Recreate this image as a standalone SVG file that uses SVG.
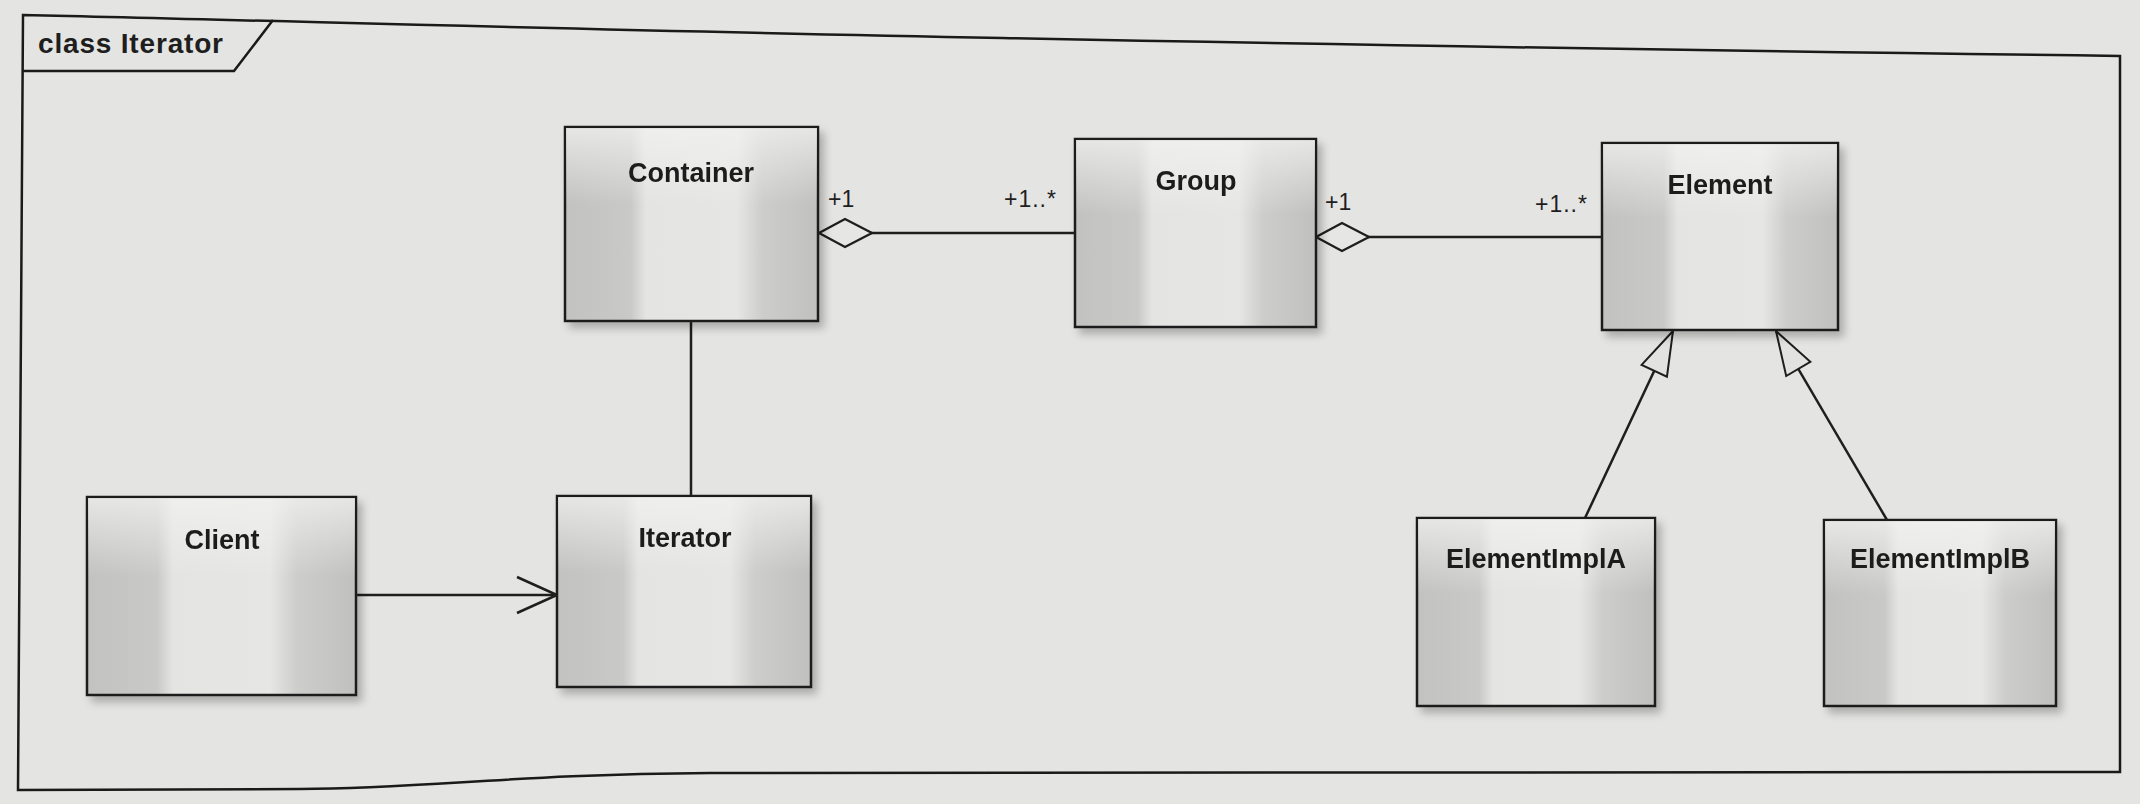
<svg xmlns="http://www.w3.org/2000/svg" width="2140" height="804" viewBox="0 0 2140 804">
<defs>
<linearGradient id="boxg" x1="0" y1="0" x2="1" y2="0">
<stop offset="0" stop-color="#c2c2c1"/>
<stop offset="0.26" stop-color="#c9c9c8"/>
<stop offset="0.32" stop-color="#e4e4e3"/>
<stop offset="0.68" stop-color="#e6e6e5"/>
<stop offset="0.78" stop-color="#cdcdcc"/>
<stop offset="1" stop-color="#c0c0bf"/>
</linearGradient>
<linearGradient id="topg" x1="0" y1="0" x2="0" y2="1">
<stop offset="0" stop-color="#f2f2f1" stop-opacity="0.75"/>
<stop offset="0.4" stop-color="#f2f2f1" stop-opacity="0"/>
</linearGradient>
<filter id="sh" x="-10%" y="-10%" width="130%" height="130%">
<feGaussianBlur in="SourceAlpha" stdDeviation="4"/>
<feOffset dx="5" dy="6" result="b"/>
<feComponentTransfer><feFuncA type="linear" slope="0.25"/></feComponentTransfer>
<feMerge><feMergeNode/><feMergeNode in="SourceGraphic"/></feMerge>
</filter>
<marker id="open" viewBox="0 0 44 40" refX="42" refY="20" markerWidth="44" markerHeight="40" markerUnits="userSpaceOnUse" orient="auto">
<path d="M2,2 L42,20 L2,38" fill="none" stroke="#1e1e1e" stroke-width="2.5"/>
</marker>
<marker id="gen" viewBox="0 0 50 40" refX="48" refY="20" markerWidth="50" markerHeight="40" markerUnits="userSpaceOnUse" orient="auto">
<path d="M48,20 L4,6 L4,34 Z" fill="#e2e2e1" stroke="#1e1e1e" stroke-width="2"/>
</marker>
<marker id="dia" viewBox="0 0 56 34" refX="1" refY="17" markerWidth="56" markerHeight="34" markerUnits="userSpaceOnUse" orient="auto">
<path d="M1,17 L27,3 L54,17 L27,31 Z" fill="#e6e6e5" stroke="#1e1e1e" stroke-width="2.4"/>
</marker>
</defs>
<style>
.box{fill:url(#boxg);stroke:#1e1e1e;stroke-width:2.5}
.hl{fill:url(#topg);stroke:none}
.name{font-family:"Liberation Sans",Arial,sans-serif;font-weight:bold;font-size:27px;fill:#1e1e1e;text-anchor:middle}
.mult{font-family:"Liberation Sans",Arial,sans-serif;font-size:23px;fill:#1e1e1e}
.ln{fill:none;stroke:#1e1e1e;stroke-width:2.5}
.frame{fill:none;stroke:#1a1a1a;stroke-width:2.5}
</style>
<rect x="0" y="0" width="2140" height="804" fill="#e4e4e2"/>
<g id="frame">
<path class="frame" d="M23,15 C500,26 900,40 2120,56 L2120,772 L710,773 C520,774 430,788 300,789 L18,790 Z"/>
<path class="frame" d="M273,20 L234,71 L23,71"/>
<text x="38" y="53" font-family="Liberation Sans,Arial,sans-serif" font-weight="bold" font-size="28" fill="#1e1e1e" textLength="185">class Iterator</text>
</g>
<g id="connectors">
<line class="ln" x1="819" y1="233" x2="1075" y2="233" marker-start="url(#dia)"/>
<line class="ln" x1="1316" y1="237" x2="1602" y2="237" marker-start="url(#dia)"/>
<line class="ln" x1="691" y1="321" x2="691" y2="496"/>
<line class="ln" x1="356" y1="595" x2="557" y2="595" marker-end="url(#open)"/>
<line class="ln" x1="1585" y1="518" x2="1673" y2="331" marker-end="url(#gen)"/>
<line class="ln" x1="1887" y1="520" x2="1776" y2="331" marker-end="url(#gen)"/>
<text class="mult" x="828" y="207">+1</text>
<text class="mult" x="1004" y="207" letter-spacing="1">+1..*</text>
<text class="mult" x="1325" y="210">+1</text>
<text class="mult" x="1535" y="212" letter-spacing="1">+1..*</text>
</g>
<g id="Container" filter="url(#sh)">
<rect class="box" x="565" y="127" width="253" height="194"/>
<rect class="hl" x="566" y="128" width="251" height="192"/>
<text class="name" x="691" y="182">Container</text>
</g>
<g id="Group" filter="url(#sh)">
<rect class="box" x="1075" y="139" width="241" height="188"/>
<rect class="hl" x="1076" y="140" width="239" height="186"/>
<text class="name" x="1196" y="190">Group</text>
</g>
<g id="Element" filter="url(#sh)">
<rect class="box" x="1602" y="143" width="236" height="187"/>
<rect class="hl" x="1603" y="144" width="234" height="185"/>
<text class="name" x="1720" y="194">Element</text>
</g>
<g id="Client" filter="url(#sh)">
<rect class="box" x="87" y="497" width="269" height="198"/>
<rect class="hl" x="88" y="498" width="267" height="196"/>
<text class="name" x="222" y="549">Client</text>
</g>
<g id="Iterator" filter="url(#sh)">
<rect class="box" x="557" y="496" width="254" height="191"/>
<rect class="hl" x="558" y="497" width="252" height="189"/>
<text class="name" x="685" y="547">Iterator</text>
</g>
<g id="ElementImplA" filter="url(#sh)">
<rect class="box" x="1417" y="518" width="238" height="188"/>
<rect class="hl" x="1418" y="519" width="236" height="186"/>
<text class="name" x="1536" y="568">ElementImplA</text>
</g>
<g id="ElementImplB" filter="url(#sh)">
<rect class="box" x="1824" y="520" width="232" height="186"/>
<rect class="hl" x="1825" y="521" width="230" height="184"/>
<text class="name" x="1940" y="568">ElementImplB</text>
</g>
</svg>
